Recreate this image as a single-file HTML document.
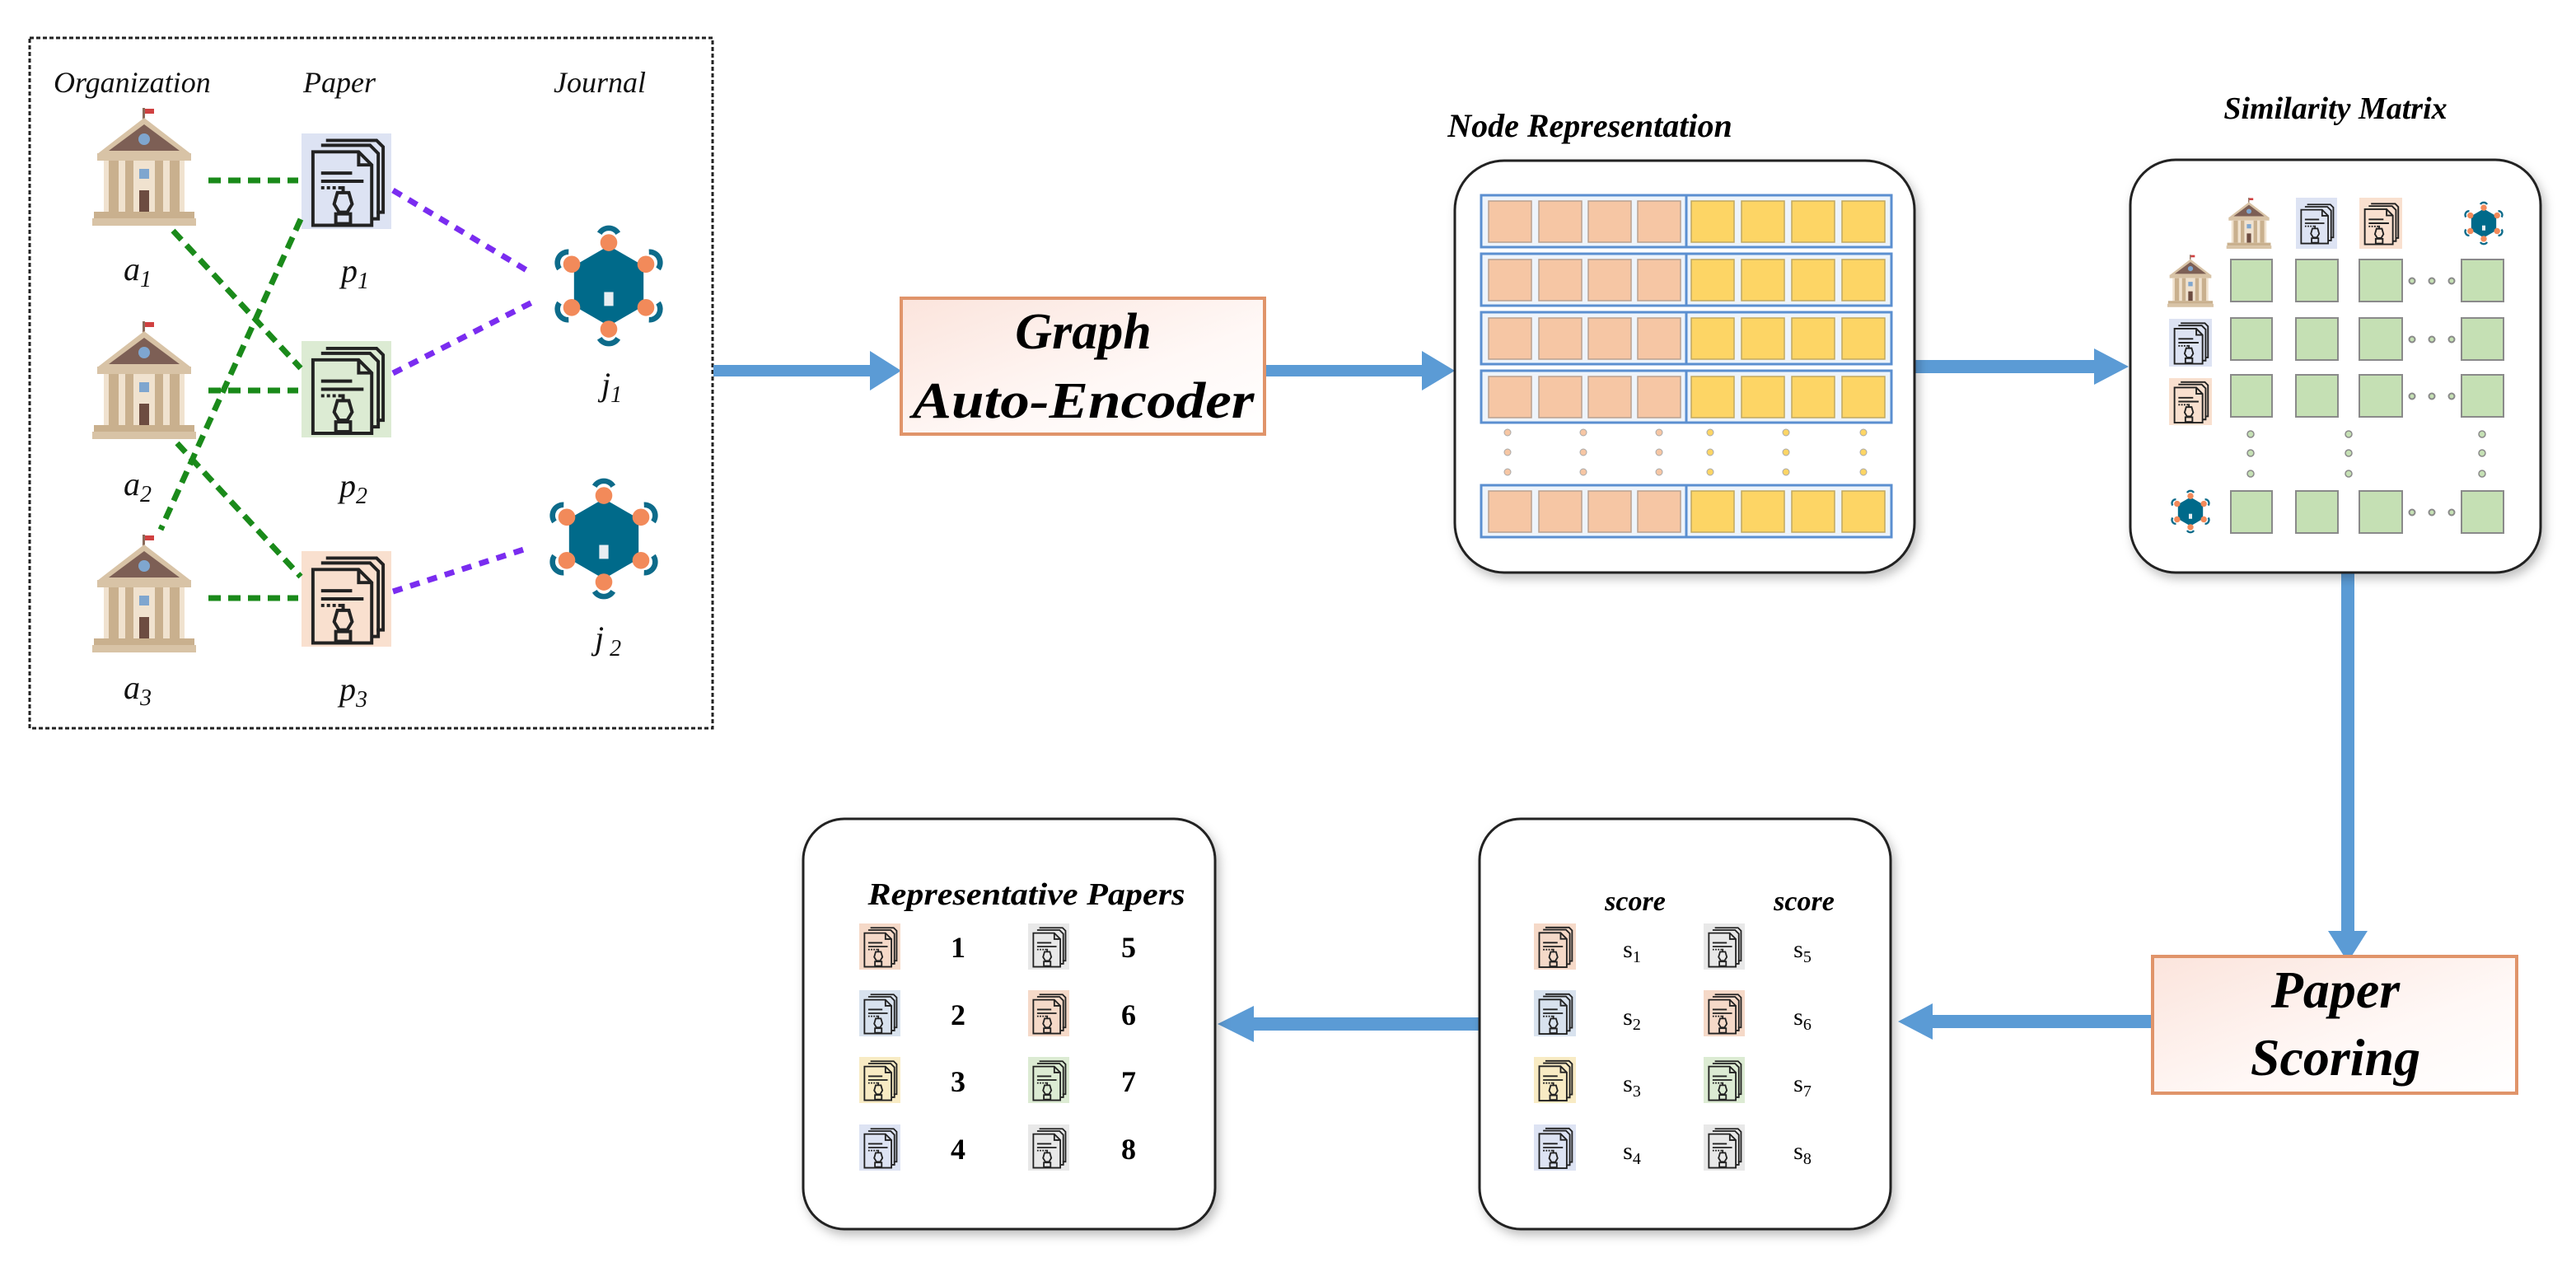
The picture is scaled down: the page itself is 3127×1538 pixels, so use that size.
<!DOCTYPE html>
<html><head><meta charset="utf-8"><style>
html,body{margin:0;padding:0;background:#fff;}
svg{display:block;}
text{font-family:"Liberation Serif",serif;}
</style></head><body>
<svg width="3127" height="1538" viewBox="0 0 3127 1538" xmlns="http://www.w3.org/2000/svg">
<defs>
<filter id="sh" x="-10%" y="-10%" width="125%" height="125%"><feDropShadow dx="4" dy="6" stdDeviation="6" flood-color="#000" flood-opacity="0.25"/></filter>
<linearGradient id="pk" x1="0" y1="0" x2="1" y2="1"><stop offset="0" stop-color="#fbe4dc"/><stop offset="0.6" stop-color="#fff8f6"/><stop offset="1" stop-color="#fff"/></linearGradient>
<symbol id="bld" viewBox="0 0 126 143">
<rect x="61" y="0" width="3" height="14" fill="#8a6a5a"/><rect x="64" y="1" width="11" height="6" fill="#d04040"/>
<polygon points="63,12 6,56 120,56" fill="#d8c3a6"/><polygon points="63,20 20,52 106,52" fill="#7d5f55"/>
<circle cx="63" cy="38" r="7" fill="#7fa6cf"/>
<rect x="6" y="55" width="114" height="9" fill="#d8c3a6"/>
<rect x="14" y="64" width="98" height="62" fill="#f0e2cf"/>
<rect x="20" y="64" width="12" height="62" fill="#c9b08e"/><rect x="40" y="64" width="10" height="62" fill="#c9b08e"/>
<rect x="76" y="64" width="10" height="62" fill="#c9b08e"/><rect x="94" y="64" width="12" height="62" fill="#c9b08e"/>
<rect x="57" y="74" width="12" height="12" fill="#7fa6cf"/><rect x="57" y="100" width="12" height="26" fill="#6d4c41"/>
<rect x="2" y="126" width="122" height="8" fill="#c9b08e"/><rect x="0" y="134" width="126" height="9" fill="#d8c3a6"/>
</symbol>
<symbol id="pap" viewBox="0 0 110 116">
<g fill="none" stroke="#222" stroke-width="4">
<path d="M30 8 H92 L100 16 V96 H92"/><path d="M24 14 H84 L94 24 V104 H86"/>
<path d="M14 22 H70 L86 38 V112 H14 Z" fill="none"/><path d="M70 22 V38 H86"/>
<line x1="24" y1="48" x2="62" y2="48"/><line x1="24" y1="58" x2="76" y2="58"/><line x1="24" y1="66" x2="50" y2="66" stroke-dasharray="4 3"/>
<path d="M44 72 H58 L62 86 L56 96 H46 L40 86 Z"/><line x1="51" y1="64" x2="51" y2="72"/><rect x="42" y="98" width="18" height="12"/>
</g>
</symbol>
<symbol id="jr" viewBox="-80 -80 160 160">
<g fill="none" stroke="#0d6b8a" stroke-width="7">
<path d="M-12 -68 A14 14 0 0 1 12 -68"/><path d="M-12 68 A14 14 0 0 0 12 68"/>
<path d="M-64 -22 A14 14 0 0 1 -52 -44"/><path d="M64 -22 A14 14 0 0 0 52 -44"/>
<path d="M-64 22 A14 14 0 0 0 -52 44"/><path d="M64 22 A14 14 0 0 1 52 44"/>
</g>
<polygon points="0,-52 45,-26 45,26 0,52 -45,26 -45,-26" fill="#006a8a"/>
<circle r="44" fill="#006a8a"/>
<g fill="#f28a5a"><circle cx="0" cy="-56" r="11"/><circle cx="0" cy="56" r="11"/><circle cx="-48" cy="-28" r="11"/><circle cx="48" cy="-28" r="11"/><circle cx="-48" cy="28" r="11"/><circle cx="48" cy="28" r="11"/></g>
<rect x="-6" y="8" width="12" height="18" fill="#e8eef2"/>
</symbol>
</defs>

<!-- Left graph -->
<rect x="36" y="46" width="829" height="838" fill="none" stroke="#222" stroke-width="3" stroke-dasharray="5 3"/>
<g font-style="italic" font-size="36" fill="#111">
<text x="65" y="112">Organization</text><text x="368" y="112">Paper</text><text x="672" y="112">Journal</text>
</g>
<use href="#bld" x="112" y="131" width="126" height="143"/>
<use href="#bld" x="112" y="390" width="126" height="143"/>
<use href="#bld" x="112" y="649" width="126" height="143"/>
<rect x="366" y="162" width="109" height="116" fill="#dde3f3"/><use href="#pap" x="366" y="162" width="109" height="116"/>
<rect x="366" y="414" width="109" height="117" fill="#dcebd3"/><use href="#pap" x="366" y="414" width="109" height="117"/>
<rect x="366" y="669" width="109" height="116" fill="#f9e0cf"/><use href="#pap" x="366" y="669" width="109" height="116"/>
<use href="#jr" x="664" y="272" width="150" height="150"/>
<use href="#jr" x="658" y="579" width="150" height="150"/>
<g stroke="#1a8a1a" stroke-width="7" stroke-dasharray="15 9" fill="none">
<line x1="253" y1="219" x2="362" y2="219"/><line x1="253" y1="474" x2="362" y2="474"/><line x1="253" y1="726" x2="362" y2="726"/>
<line x1="210" y1="280" x2="365" y2="447"/><line x1="365" y1="266" x2="195" y2="643"/><line x1="215" y1="538" x2="365" y2="700"/>
</g>
<g stroke="#7a2cf0" stroke-width="7" stroke-dasharray="12 10" fill="none">
<line x1="477" y1="231" x2="646" y2="332"/><line x1="477" y1="453" x2="646" y2="367"/><line x1="477" y1="718" x2="639" y2="666"/>
</g>
<g font-style="italic" font-size="40" fill="#111">
<text x="150" y="340">a<tspan font-size="28" dy="8">1</tspan></text>
<text x="150" y="601">a<tspan font-size="28" dy="8">2</tspan></text>
<text x="150" y="848">a<tspan font-size="28" dy="8">3</tspan></text>
<text x="414" y="342">p<tspan font-size="28" dy="8">1</tspan></text>
<text x="412" y="603">p<tspan font-size="28" dy="8">2</tspan></text>
<text x="412" y="850">p<tspan font-size="28" dy="8">3</tspan></text>
<text x="730" y="480">j<tspan font-size="28" dy="8">1</tspan></text>
<text x="722" y="788">j<tspan font-size="28" dy="8"> 2</tspan></text>
</g>

<!-- Arrows -->
<g fill="#5b9bd5">
<rect x="866" y="443" width="194" height="14"/><polygon points="1056,426 1094,450 1056,474"/>
<rect x="1536" y="443" width="194" height="14"/><polygon points="1726,426 1766,450 1726,474"/>
<rect x="2325" y="437" width="220" height="16"/><polygon points="2542,423 2584,445 2542,467"/>
<rect x="2842" y="696" width="16" height="440"/><polygon points="2826,1130 2850,1168 2874,1130"/>
<rect x="2340" y="1232" width="273" height="16"/><polygon points="2346,1218 2304,1240 2346,1262"/>
<rect x="1520" y="1235" width="282" height="16"/><polygon points="1522,1221 1478,1243 1522,1265"/>
</g>

<!-- Graph Auto-Encoder -->
<rect x="1094" y="362" width="441" height="165" fill="url(#pk)" stroke="#e0946a" stroke-width="4"/>
<g font-style="italic" font-weight="bold" font-size="62" text-anchor="middle" fill="#000">
<text x="1315" y="423">Graph</text><text x="1315" y="507" textLength="415" lengthAdjust="spacingAndGlyphs">Auto-Encoder</text>
</g>

<!-- Node Representation -->
<text x="1930" y="166" font-style="italic" font-weight="bold" font-size="40" text-anchor="middle">Node Representation</text>
<rect x="1766" y="195" width="558" height="500" rx="60" fill="#fff" stroke="#222" stroke-width="3" filter="url(#sh)"/>
<g id="row">
<rect x="1798" y="237" width="498" height="63" fill="#eef4fb" stroke="#5b8fd0" stroke-width="3"/>
<line x1="2047" y1="237" x2="2047" y2="300" stroke="#5b8fd0" stroke-width="3"/>
<g fill="#f6c6a4" stroke="#b9a090" stroke-width="1.5">
<rect x="1807" y="244" width="52" height="50"/><rect x="1868" y="244" width="52" height="50"/><rect x="1928" y="244" width="52" height="50"/><rect x="1988" y="244" width="52" height="50"/></g>
<g fill="#fdd565" stroke="#c0a860" stroke-width="1.5">
<rect x="2053" y="244" width="52" height="50"/><rect x="2114" y="244" width="52" height="50"/><rect x="2175" y="244" width="52" height="50"/><rect x="2236" y="244" width="52" height="50"/></g>
</g>
<use href="#row" y="71"/><use href="#row" y="142"/><use href="#row" y="213"/><use href="#row" y="352"/>
<g stroke="#aaa" stroke-width="1">
<g fill="#f6c6a4"><circle cx="1830" cy="525" r="4"/><circle cx="1830" cy="549" r="4"/><circle cx="1830" cy="573" r="4"/><circle cx="1922" cy="525" r="4"/><circle cx="1922" cy="549" r="4"/><circle cx="1922" cy="573" r="4"/><circle cx="2014" cy="525" r="4"/><circle cx="2014" cy="549" r="4"/><circle cx="2014" cy="573" r="4"/></g>
<g fill="#fdd565"><circle cx="2076" cy="525" r="4"/><circle cx="2076" cy="549" r="4"/><circle cx="2076" cy="573" r="4"/><circle cx="2168" cy="525" r="4"/><circle cx="2168" cy="549" r="4"/><circle cx="2168" cy="573" r="4"/><circle cx="2262" cy="525" r="4"/><circle cx="2262" cy="549" r="4"/><circle cx="2262" cy="573" r="4"/></g>
</g>

<!-- Similarity Matrix -->
<text x="2835" y="144" font-style="italic" font-weight="bold" font-size="38" text-anchor="middle">Similarity Matrix</text>
<rect x="2586" y="194" width="498" height="501" rx="55" fill="#fff" stroke="#222" stroke-width="3" filter="url(#sh)"/>
<use href="#bld" x="2701" y="240" width="58" height="62"/>
<rect x="2787" y="240" width="50" height="62" fill="#dde3f3"/><use href="#pap" x="2787" y="240" width="50" height="62"/>
<rect x="2864" y="240" width="52" height="62" fill="#f9e0cf"/><use href="#pap" x="2864" y="240" width="52" height="62"/>
<use href="#jr" x="2988" y="244" width="54" height="54"/>
<use href="#bld" x="2631" y="309" width="56" height="64"/>
<rect x="2633" y="387" width="52" height="58" fill="#dde3f3"/><use href="#pap" x="2633" y="387" width="52" height="58"/>
<rect x="2633" y="459" width="52" height="57" fill="#f9e0cf"/><use href="#pap" x="2633" y="459" width="52" height="57"/>
<use href="#jr" x="2632" y="594" width="54" height="54"/>
<g id="grow" fill="#c5e0b4" stroke="#8a8a8a" stroke-width="2">
<rect x="2708" y="315" width="50" height="51"/><rect x="2787" y="315" width="51" height="51"/><rect x="2864" y="315" width="52" height="51"/><rect x="2988" y="315" width="51" height="51"/>
<circle cx="2928" cy="341" r="3.5"/><circle cx="2952" cy="341" r="3.5"/><circle cx="2976" cy="341" r="3.5"/>
</g>
<use href="#grow" y="71"/><use href="#grow" y="140"/><use href="#grow" y="281"/>
<g fill="#c5e0b4" stroke="#8a8a8a" stroke-width="1.5">
<circle cx="2732" cy="527" r="4"/><circle cx="2732" cy="550" r="4"/><circle cx="2732" cy="575" r="4"/>
<circle cx="2851" cy="527" r="4"/><circle cx="2851" cy="550" r="4"/><circle cx="2851" cy="575" r="4"/>
<circle cx="3013" cy="527" r="4"/><circle cx="3013" cy="550" r="4"/><circle cx="3013" cy="575" r="4"/>
</g>

<!-- Paper Scoring -->
<rect x="2613" y="1161" width="442" height="166" fill="url(#pk)" stroke="#e0946a" stroke-width="4"/>
<g font-style="italic" font-weight="bold" font-size="64" text-anchor="middle" fill="#000">
<text x="2835" y="1223">Paper</text><text x="2835" y="1305">Scoring</text>
</g>

<!-- Scoring box -->
<rect x="1796" y="994" width="499" height="498" rx="50" fill="#fff" stroke="#222" stroke-width="3" filter="url(#sh)"/>
<g font-style="italic" font-weight="bold" font-size="34" text-anchor="middle"><text x="1985" y="1105">score</text><text x="2190" y="1105">score</text></g>
<!-- Representative box -->
<rect x="975" y="994" width="500" height="498" rx="50" fill="#fff" stroke="#222" stroke-width="3" filter="url(#sh)"/>
<text x="1246" y="1098" font-style="italic" font-weight="bold" font-size="38" text-anchor="middle" textLength="385" lengthAdjust="spacingAndGlyphs">Representative Papers</text>

<!-- paper icons -->
<g>
<rect x="1043" y="1121" width="50" height="56" fill="#f5d9c8"/><use href="#pap" x="1043" y="1121" width="50" height="56"/>
<rect x="1248" y="1121" width="50" height="56" fill="#e8e8e8"/><use href="#pap" x="1248" y="1121" width="50" height="56"/>
<rect x="1043" y="1202" width="50" height="56" fill="#d8e2ee"/><use href="#pap" x="1043" y="1202" width="50" height="56"/>
<rect x="1248" y="1202" width="50" height="56" fill="#f5d9c8"/><use href="#pap" x="1248" y="1202" width="50" height="56"/>
<rect x="1043" y="1283" width="50" height="56" fill="#f8ebc4"/><use href="#pap" x="1043" y="1283" width="50" height="56"/>
<rect x="1248" y="1283" width="50" height="56" fill="#dcebd3"/><use href="#pap" x="1248" y="1283" width="50" height="56"/>
<rect x="1043" y="1365" width="50" height="56" fill="#dde3f3"/><use href="#pap" x="1043" y="1365" width="50" height="56"/>
<rect x="1248" y="1365" width="50" height="56" fill="#e8e8e8"/><use href="#pap" x="1248" y="1365" width="50" height="56"/>

<rect x="1862" y="1121" width="51" height="56" fill="#f5d9c8"/><use href="#pap" x="1862" y="1121" width="51" height="56"/>
<rect x="2068" y="1121" width="50" height="56" fill="#e8e8e8"/><use href="#pap" x="2068" y="1121" width="50" height="56"/>
<rect x="1862" y="1202" width="51" height="56" fill="#d8e2ee"/><use href="#pap" x="1862" y="1202" width="51" height="56"/>
<rect x="2068" y="1202" width="50" height="56" fill="#f5d9c8"/><use href="#pap" x="2068" y="1202" width="50" height="56"/>
<rect x="1862" y="1283" width="51" height="56" fill="#f8ebc4"/><use href="#pap" x="1862" y="1283" width="51" height="56"/>
<rect x="2068" y="1283" width="50" height="56" fill="#dcebd3"/><use href="#pap" x="2068" y="1283" width="50" height="56"/>
<rect x="1862" y="1365" width="51" height="56" fill="#dde3f3"/><use href="#pap" x="1862" y="1365" width="51" height="56"/>
<rect x="2068" y="1365" width="50" height="56" fill="#e8e8e8"/><use href="#pap" x="2068" y="1365" width="50" height="56"/>
</g>
<g font-weight="bold" font-size="36" text-anchor="middle">
<text x="1163" y="1162">1</text><text x="1370" y="1162">5</text>
<text x="1163" y="1244">2</text><text x="1370" y="1244">6</text>
<text x="1163" y="1325">3</text><text x="1370" y="1325">7</text>
<text x="1163" y="1407">4</text><text x="1370" y="1407">8</text>
</g>
<g font-size="30" text-anchor="middle">
<text x="1981" y="1162">s<tspan font-size="20" dy="6">1</tspan></text><text x="2188" y="1162">s<tspan font-size="20" dy="6">5</tspan></text>
<text x="1981" y="1244">s<tspan font-size="20" dy="6">2</tspan></text><text x="2188" y="1244">s<tspan font-size="20" dy="6">6</tspan></text>
<text x="1981" y="1325">s<tspan font-size="20" dy="6">3</tspan></text><text x="2188" y="1325">s<tspan font-size="20" dy="6">7</tspan></text>
<text x="1981" y="1407">s<tspan font-size="20" dy="6">4</tspan></text><text x="2188" y="1407">s<tspan font-size="20" dy="6">8</tspan></text>
</g>
</svg>
</body></html>
